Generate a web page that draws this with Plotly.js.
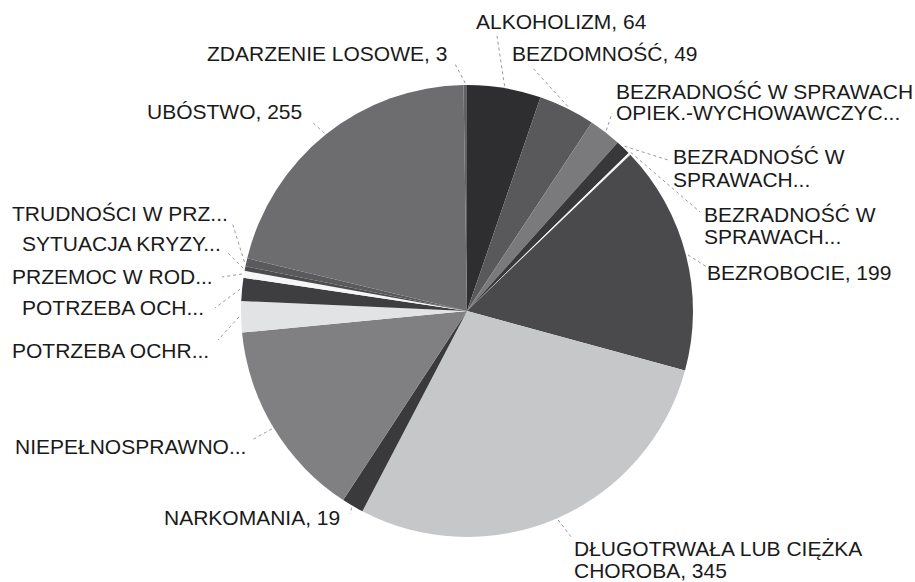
<!DOCTYPE html>
<html>
<head>
<meta charset="utf-8">
<script src="https://cdn.plot.ly/plotly-3.0.1.min.js"></script>
<style>html,body{margin:0;padding:0;background:#fff;}#chart{width:915px;height:582px;}</style>
</head>
<body>
<div id="chart"></div>
<script>
// ---- data ----
const categories = [
  "ALKOHOLIZM",
  "BEZDOMNOŚĆ",
  "BEZRADNOŚĆ W SPRAWACH OPIEK.-WYCHOWAWCZYCH",
  "BEZRADNOŚĆ W SPRAWACH OPIEK.-WYCHOWAWCZYCH - RODZINA NIEPEŁNA",
  "BEZRADNOŚĆ W SPRAWACH OPIEK.-WYCHOWAWCZYCH - RODZINA WIELODZIETNA",
  "BEZROBOCIE",
  "DŁUGOTRWAŁA LUB CIĘŻKA CHOROBA",
  "NARKOMANIA",
  "NIEPEŁNOSPRAWNOŚĆ",
  "POTRZEBA OCHRONY MACIERZYŃSTWA",
  "POTRZEBA OCHRONY MACIERZYŃSTWA - WIELODZIETNOŚĆ",
  "PRZEMOC W RODZINIE",
  "SYTUACJA KRYZYSOWA",
  "TRUDNOŚCI W PRZYSTOSOWANIU DO ŻYCIA PO ZWOLNIENIU Z ZAKŁADU KARNEGO",
  "UBÓSTWO",
  "ZDARZENIE LOSOWE"
];
const values = [64, 49, 28, 13, 2, 199, 345, 19, 173, 27, 20, 6, 4, 7, 255, 3];
const displayLabels = [
  "ALKOHOLIZM, 64",
  "BEZDOMNOŚĆ, 49",
  "BEZRADNOŚĆ W SPRAWACH\nOPIEK.-WYCHOWAWCZYC...",
  "BEZRADNOŚĆ W\nSPRAWACH...",
  "BEZRADNOŚĆ W\nSPRAWACH...",
  "BEZROBOCIE, 199",
  "DŁUGOTRWAŁA LUB CIĘŻKA\nCHOROBA, 345",
  "NARKOMANIA, 19",
  "NIEPEŁNOSPRAWNO...",
  "POTRZEBA OCHR...",
  "POTRZEBA OCH...",
  "PRZEMOC W ROD...",
  "SYTUACJA KRYZY...",
  "TRUDNOŚCI W PRZ...",
  "UBÓSTWO, 255",
  "ZDARZENIE LOSOWE, 3"
];

// ---- styles / layout positions (pixels) ----
const colors = ["#2e2e30","#59595b","#7a7a7c","#38383a","#f4f4f4","#4a4a4c","#c6c7c9","#3a3a3c",
                "#808082","#e2e3e5","#3e3e40","#f6f6f6","#4c4c4e","#5a5a5c","#6d6d6f","#626264"];
// label anchor: [x, y(first line center), xanchor]
const labelPos = [
  [474, 22, "left"], [510, 53, "left"], [614, 91, "left"], [671, 157, "left"], [702, 214, "left"],
  [799, 272, "center"], [572, 548, "left"], [252, 517, "center"], [130, 446, "center"],
  [110, 350, "center"], [113, 307, "center"], [112, 276, "center"], [121, 243, "center"],
  [120, 213, "center"], [224, 111, "center"], [327, 53, "center"]
];
// leader line end near label
const lineEnd = [
  [497, 36], [532, 67], [612, 113], [668, 160], [700, 212], [710, 269], [572, 538], [350, 514],
  [252, 440], [218, 340], [215, 308], [222, 277], [226, 251], [232, 222], [312, 122], [455, 64]
];

const W = 915, H = 582;
const cx = 467, cy = 311, R = 226;
const px = x => x / W, py = y => 1 - y / H;

const total = values.reduce((a, b) => a + b, 0);
const shapes = [], annotations = [];
const LINE_H = 22;
let cum = 0;
values.forEach((v, i) => {
  const mid = (cum + v / 2) / total * 2 * Math.PI;
  cum += v;
  const sx = cx + (R + 2) * Math.sin(mid), sy = cy - (R + 2) * Math.cos(mid);
  shapes.push({type: "line", xref: "paper", yref: "paper",
    x0: px(sx), y0: py(sy), x1: px(lineEnd[i][0]), y1: py(lineEnd[i][1]),
    line: {color: "#9a9a9a", width: 1, dash: "dot"}});
  displayLabels[i].split("\n").forEach((t, k) => {
    annotations.push({xref: "paper", yref: "paper",
      x: px(labelPos[i][0]), y: py(labelPos[i][1] + k * LINE_H),
      xanchor: labelPos[i][2], yanchor: "middle", showarrow: false, text: t,
      font: {family: "Liberation Sans, Arial, sans-serif", size: 21, color: "#1a1a1a"}});
  });
});

const trace = {
  type: "pie", labels: categories, values: values, sort: false, direction: "clockwise", rotation: 0,
  textinfo: "none", hoverinfo: "label+value",
  marker: {colors: colors, line: {width: 0}},
  domain: {x: [(cx - R) / W, (cx + R) / W], y: [1 - (cy + R) / H, 1 - (cy - R) / H]},
  showlegend: false
};

Plotly.newPlot("chart", [trace], {
  width: W, height: H, margin: {l: 0, r: 0, t: 0, b: 0},
  paper_bgcolor: "#ffffff", showlegend: false,
  shapes: shapes, annotations: annotations
}, {displayModeBar: false, staticPlot: true});
</script>
</body>
</html>
